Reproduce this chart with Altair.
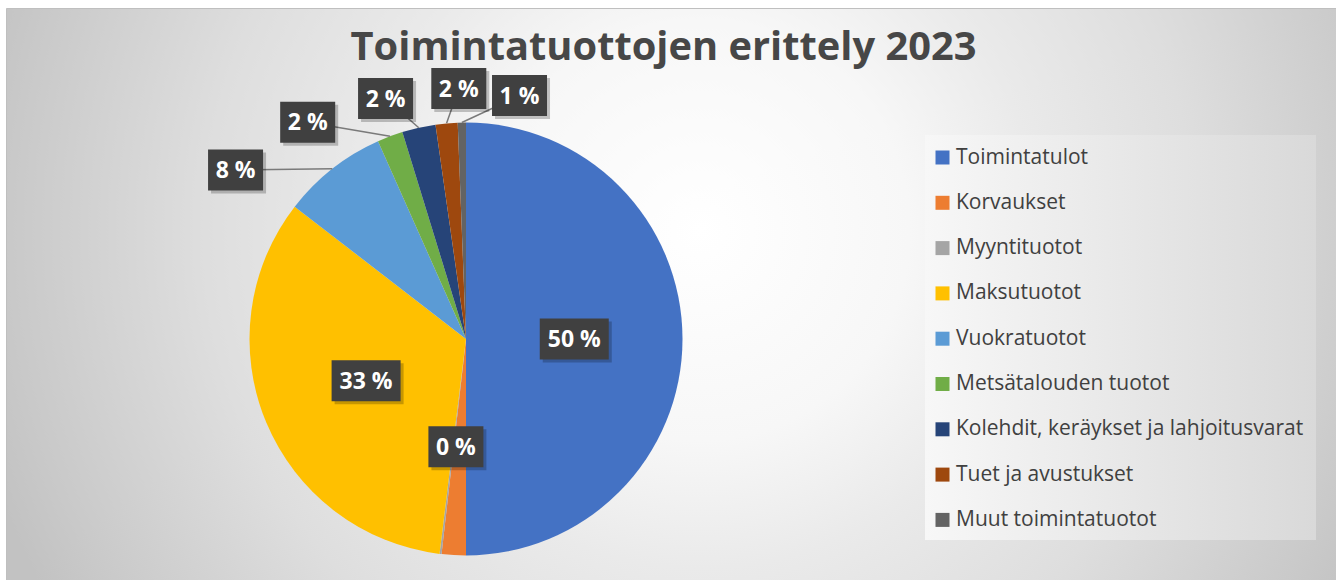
import math
import altair as alt
import pandas as pd

# ---------------- data ----------------
CATEGORIES = [
    "Toimintatulot",
    "Korvaukset",
    "Myyntituotot",
    "Maksutuotot",
    "Vuokratuotot",
    "Metsätalouden tuotot",
    "Kolehdit, keräykset ja lahjoitusvarat",
    "Tuet ja avustukset",
    "Muut toimintatuotot",
]
SHARES = [50.0, 1.8, 0.15, 33.52, 7.87, 1.91, 2.5, 1.64, 0.61]
LABELS = ["50 %", "", "0 %", "33 %", "8 %", "2 %", "2 %", "2 %", "1 %"]
COLORS = ["#4472C4", "#ED7D31", "#A5A5A5", "#FFC000", "#5B9BD5",
          "#70AD47", "#264478", "#9E480E", "#636363"]
TITLE = "Toimintatuottojen erittely 2023"

# ---------------- layout ----------------
W, H = 1336, 580
CX, CY, R = 466, 339, 216.5
LABEL_RADIUS = [0.5, 0.5, 0.5, 0.5, 1.32, 1.24, 1.171, 1.157, 1.151]
LABEL_SHIFT = [0, 0, -1.4, 0, -15.6, -15.6, -5.9, 3.5, 13.5]
BOX_H = 41
FONT = "Open Sans"

# ---------------- tables ----------------
pie = pd.DataFrame({"cat": CATEGORIES, "share": SHARES, "idx": list(range(len(CATEGORIES)))})

total = sum(SHARES)
rows = []
cum = 0.0
for i, (c, s, lab) in enumerate(zip(CATEGORIES, SHARES, LABELS)):
    mid = (cum + s / 2) / total * 360.0
    cum += s
    if not lab:
        continue
    ang = math.radians(mid + LABEL_SHIFT[i])
    r = LABEL_RADIUS[i] * R
    lx = CX + r * math.sin(ang)
    ly = CY - r * math.cos(ang)
    ex = CX + R * math.sin(math.radians(mid))
    ey = CY - R * math.cos(math.radians(mid))
    ndig = sum(ch.isdigit() for ch in lab)
    bw = 41 + 14 * ndig
    rows.append(dict(label=lab, lx=lx, ly=ly, ex=ex, ey=ey,
                     bx1=lx - bw / 2, bx2=lx + bw / 2,
                     by1=ly - BOX_H / 2, by2=ly + BOX_H / 2,
                     sx1=lx - bw / 2 + 3, sx2=lx + bw / 2 + 3,
                     sy1=ly - BOX_H / 2 + 3, sy2=ly + BOX_H / 2 + 3,
                     outside=LABEL_RADIUS[i] > 1))
labels = pd.DataFrame(rows)
leaders = labels[labels["outside"]]

xs = alt.Scale(domain=[0, W], nice=False, zero=False)
ys = alt.Scale(domain=[0, H], nice=False, zero=False, reverse=True)
one = pd.DataFrame({"k": [0]})

bg_grad = {
    "gradient": "radial",
    "x1": 0.518, "y1": 0.445, "r1": 0,
    "x2": 0.518, "y2": 0.445, "r2": 0.56,
    "stops": [
        {"offset": 0.0, "color": "#ffffff"},
        {"offset": 0.28, "color": "#f7f7f7"},
        {"offset": 0.45, "color": "#eaeaea"},
        {"offset": 0.66, "color": "#dedede"},
        {"offset": 0.92, "color": "#c9c9c9"},
        {"offset": 1.0, "color": "#c2c2c2"},
    ],
}
background = alt.Chart(one).mark_rect(fill=bg_grad, stroke="#bfbfbf", strokeWidth=1).encode(
    x=alt.value(6.5), x2=alt.value(1345), y=alt.value(8.5), y2=alt.value(600)
)

legend_grad = {
    "gradient": "linear", "x1": 0, "y1": 0, "x2": 1, "y2": 0,
    "stops": [{"offset": 0, "color": "#f7f7f7"}, {"offset": 1, "color": "#d9d9d9"}],
}
legend_box = alt.Chart(one).mark_rect(fill=legend_grad).encode(
    x=alt.value(925), x2=alt.value(1316), y=alt.value(135), y2=alt.value(540)
)

arcs = alt.Chart(pie).mark_arc(radius=R).encode(
    theta=alt.Theta("share:Q", stack=True),
    order=alt.Order("idx:Q"),
    color=alt.Color(
        "cat:N",
        sort=CATEGORIES,
        scale=alt.Scale(domain=CATEGORIES, range=COLORS),
        legend=alt.Legend(
            orient="none", legendX=932, legendY=147, title=None,
            symbolType="square", symbolSize=196, symbolStrokeWidth=0,
            labelFont=FONT, labelFontSize=21, labelColor="#404040",
            rowPadding=23.3, labelOffset=3, padding=0, labelLimit=600,
        ),
    ),
    x=alt.value(CX),
    y=alt.value(CY),
)

leader_lines = alt.Chart(leaders).mark_rule(color="#7a7a7a", strokeWidth=1.5).encode(
    x=alt.X("lx:Q", scale=xs, axis=None),
    y=alt.Y("ly:Q", scale=ys, axis=None),
    x2="ex:Q",
    y2="ey:Q",
)

shadows = alt.Chart(labels).mark_rect(fill="#000000", opacity=0.22).encode(
    x=alt.X("sx1:Q", scale=xs, axis=None), x2="sx2:Q",
    y=alt.Y("sy1:Q", scale=ys, axis=None), y2="sy2:Q",
)
boxes = alt.Chart(labels).mark_rect(fill="#404040").encode(
    x=alt.X("bx1:Q", scale=xs, axis=None), x2="bx2:Q",
    y=alt.Y("by1:Q", scale=ys, axis=None), y2="by2:Q",
)
texts = alt.Chart(labels).mark_text(
    font=FONT, fontWeight="bold", fontSize=23, color="#ffffff", baseline="middle", align="center", dy=1
).encode(
    x=alt.X("lx:Q", scale=xs, axis=None),
    y=alt.Y("ly:Q", scale=ys, axis=None),
    text="label:N",
)

title = alt.Chart(pd.DataFrame({"t": [TITLE]})).mark_text(
    font=FONT, fontWeight="bold", fontSize=39.8, color="#474747", baseline="alphabetic", align="center"
).encode(x=alt.value(663.5), y=alt.value(60), text="t:N")

chart = alt.layer(
    background, legend_box, title, arcs, leader_lines, shadows, boxes, texts
).properties(
    width=W, height=H, autosize="none", padding=0, background="#ffffff"
).configure_view(stroke=None)

chart.save("out.html", embed_options={"renderer": "svg", "actions": False})
